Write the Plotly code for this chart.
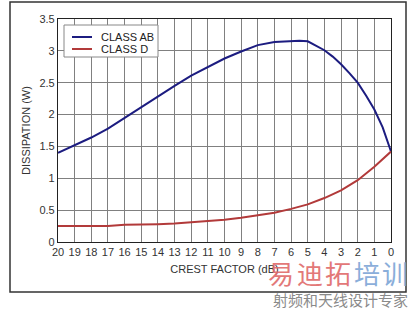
import plotly.graph_objects as go

crest_db = [20, 19, 18, 17, 16, 15, 14, 13, 12, 11, 10, 9, 8, 7, 6, 5.5, 5, 4.5, 4, 3.5, 3, 2.5, 2, 1.5, 1, 0.5, 0]
class_ab = [1.40, 1.52, 1.64, 1.78, 1.95, 2.12, 2.28, 2.45, 2.61, 2.75, 2.88, 2.99, 3.09, 3.14, 3.16, 3.16, 3.15, 3.08, 3.01, 2.91, 2.79, 2.65, 2.50, 2.30, 2.08, 1.80, 1.42]

crest_db_d = [20, 19, 18, 17, 16, 15, 14, 13, 12, 11, 10, 9, 8, 7, 6, 5, 4, 3, 2, 1, 0]
class_d = [0.25, 0.25, 0.25, 0.25, 0.27, 0.27, 0.28, 0.29, 0.31, 0.32, 0.35, 0.38, 0.42, 0.46, 0.52, 0.59, 0.69, 0.81, 0.97, 1.18, 1.42]

series_names = ["CLASS AB", "CLASS D"]
x_ticks = list(range(20, -1, -1))
y_ticks = [0, 0.5, 1, 1.5, 2, 2.5, 3, 3.5]
y_tick_text = ["0", "0.5", "1", "1.5", "2", "2.5", "3", "3.5"]

AB_COLOR = "#1c1c80"
D_COLOR = "#b23a3a"
FONT = "Liberation Sans, Arial, sans-serif"

W, H = 420, 310
L, R, T, B = 58, 29, 19, 68
pw, ph = W - L - R, H - T - B

def px_x(p):
    return (p - L) / pw

def px_y(p):
    return (H - B - p) / ph

fig = go.Figure()
fig.add_trace(go.Scatter(x=crest_db, y=class_ab, mode="lines", name=series_names[0],
                         line=dict(color=AB_COLOR, width=2), showlegend=False))
fig.add_trace(go.Scatter(x=crest_db_d, y=class_d, mode="lines", name=series_names[1],
                         line=dict(color=D_COLOR, width=2), showlegend=False))

shapes = []
# outer frame
shapes.append(dict(type="rect", xref="paper", yref="paper",
                   x0=px_x(10), x1=px_x(406), y0=px_y(292), y1=px_y(2),
                   line=dict(color="#333333", width=1.5), layer="below"))
# legend box
shapes.append(dict(type="rect", xref="paper", yref="paper",
                   x0=px_x(64), x1=px_x(158), y0=px_y(57), y1=px_y(25),
                   line=dict(color="#888888", width=1), fillcolor="white", layer="above"))
annotations = []
for i, (name, col) in enumerate(zip(series_names, [AB_COLOR, D_COLOR])):
    yy = 37 + i * 12
    shapes.append(dict(type="line", xref="paper", yref="paper",
                       x0=px_x(72), x1=px_x(92), y0=px_y(yy), y1=px_y(yy),
                       line=dict(color=col, width=2), layer="above"))
    annotations.append(dict(text=name, xref="paper", yref="paper", x=px_x(99), y=px_y(yy),
                            xanchor="left", yanchor="middle", showarrow=False,
                            font=dict(family=FONT, size=11, color="#222222")))

# watermark
wm_chars = [("易", "#e06a6a"), ("迪", "#e06a6a"), ("拓", "#e06a6a"), ("培", "#7ea6d6"), ("训", "#7ea6d6")]
for i, (ch, col) in enumerate(wm_chars):
    annotations.append(dict(text=ch, xref="paper", yref="paper", x=px_x(281 + i * 28.5), y=px_y(272),
                            xanchor="center", yanchor="middle", showarrow=False, opacity=0.9,
                            font=dict(family="Noto Sans CJK SC", size=26, color=col)))
annotations.append(dict(text="射频和天线设计专家", xref="paper", yref="paper", x=px_x(340), y=px_y(300),
                        xanchor="center", yanchor="middle", showarrow=False,
                        font=dict(family="Noto Sans CJK SC", size=15, color="#8a8a8a")))

fig.update_layout(
    width=W, height=H,
    margin=dict(l=L, r=R, t=T, b=B),
    paper_bgcolor="white", plot_bgcolor="white",
    font=dict(family=FONT, size=11, color="#333333"),
    shapes=shapes, annotations=annotations,
    xaxis=dict(range=[20, 0], tickmode="array", tickvals=x_ticks, ticktext=[str(v) for v in x_ticks],
               showgrid=True, gridcolor="#808080", gridwidth=1,
               showline=True, linecolor="#222222", linewidth=1.2, mirror=True,
               ticks="", zeroline=False,
               title=dict(text="CREST FACTOR (dB)", standoff=8, font=dict(size=11))),
    yaxis=dict(range=[0, 3.5], tickmode="array", tickvals=y_ticks, ticktext=y_tick_text,
               showgrid=True, gridcolor="#808080", gridwidth=1,
               showline=True, linecolor="#222222", linewidth=1.2, mirror=True,
               ticks="", zeroline=False,
               title=dict(text="DISSIPATION (W)", standoff=6, font=dict(size=11))),
)

fig.write_html("out.html")
